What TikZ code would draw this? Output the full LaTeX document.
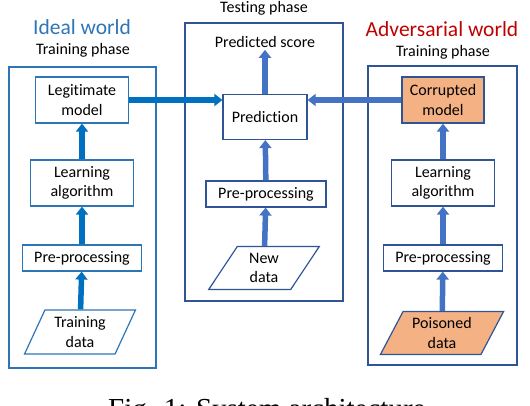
\documentclass[tikz,border=0pt]{standalone}
\usepackage{fontspec}
\setmainfont{Carlito}[Ligatures=NoCommon]
\newfontfamily\captionfont{Liberation Serif}
\usetikzlibrary{shapes.geometric, arrows.meta, positioning, calc}
\definecolor{ideal_blue}{RGB}{46, 117, 182}
\definecolor{flow_blue}{RGB}{0, 112, 192}
\definecolor{dark_blue}{RGB}{47, 85, 151}
\definecolor{mid_blue}{RGB}{68, 114, 196}
\definecolor{adv_red}{RGB}{192, 0, 0}
\definecolor{poison_orange}{RGB}{244, 177, 131}

\begin{document}
\begin{tikzpicture}[
        x=1pt, y=-1pt,
        font=\fontsize{16}{19.5}\selectfont,
        every node/.style={inner sep=2pt},
        block/.style={draw=ideal_blue, line width=1.2pt, align=center, fill=white},
        datablock/.style={trapezium, trapezium stretches=true, trapezium left angle=#1,
            trapezium right angle=180-#1, draw=ideal_blue, line width=1.2pt, align=center, fill=white},
        frame/.style={draw=ideal_blue, line width=1.8pt},
        flow/.style={line width=5.5pt, flow_blue, -{Triangle[width=12pt, length=8pt]}},
        title/.style={font=\fontsize{21.5}{23}\selectfont}
    ]
        \useasboundingbox (0, 0) rectangle (530, 406);

        % -------- Cornici --------
        \draw[frame] (9, 67) rectangle (156, 368);
        \draw[frame, dark_blue] (185, 23) rectangle (343, 301);
        \draw[frame, dark_blue] (368, 66) rectangle (517, 365);

        % -------- Titoli --------
        \node[title, ideal_blue] (ideal) at (82, 27) {Ideal world};
        \node (trainl) at (83, 50) {Training phase};
        \node (test) at (264, 8) {Testing phase};
        \node[title, adv_red] (adv) at (442, 29) {Adversarial world};
        \node (trainr) at (443, 52) {Training phase};

        % -------- Mondo ideale --------
        \node[block, minimum width=93, minimum height=46] (legit) at (82, 100) {Legitimate\\model};
        \node[block, minimum width=103, minimum height=46] (learnl) at (82, 183) {Learning\\algorithm};
        \node[block, minimum width=119, minimum height=26] (prel) at (82, 258) {Pre-processing};
        \node[datablock=65, minimum width=111, minimum height=44] (tdata) at (80, 332) {Training\\data};

        \draw[flow] (tdata) -- (prel);
        \draw[flow] (prel) -- (learnl);
        \draw[flow] (learnl) -- (legit);

        % -------- Fase di test --------
        \node (score) at (265, 42) {Predicted score};
        \node[block, draw=dark_blue, minimum width=84, minimum height=45] (pred) at (265, 117) {Prediction};
        \node[block, draw=dark_blue, minimum width=120, minimum height=26] (prec) at (266, 194) {Pre-processing};
        \node[datablock=62, draw=dark_blue, minimum width=111, minimum height=43] (ndata) at (264, 268) {New\\data};

        \draw[flow, mid_blue] (ndata) -- (prec);
        \draw[flow, mid_blue] (prec) -- (pred);
        \draw[flow, mid_blue] (pred) -- (score);

        % -------- Mondo avversario --------
        \node[block, draw=dark_blue, fill=poison_orange, minimum width=82, minimum height=46] (corr) at (443, 100) {Corrupted\\model};
        \node[block, draw=dark_blue, minimum width=103, minimum height=46] (learnr) at (443, 183) {Learning\\algorithm};
        \node[block, draw=dark_blue, minimum width=119, minimum height=26] (prer) at (443, 258) {Pre-processing};
        \node[datablock=62, draw=dark_blue, fill=poison_orange, minimum width=124, minimum height=43] (pdata) at (442, 333) {Poisoned\\data};

        \draw[flow, mid_blue] (pdata) -- (prer);
        \draw[flow, mid_blue] (prer) -- (learnr);
        \draw[flow, mid_blue] (learnr) -- (corr);

        % -------- Modelli verso la predizione --------
        \draw[flow] (legit.east) -- (legit.east -| pred.west);
        \draw[flow, mid_blue] (corr.west) -- (corr.west -| pred.east);

        % -------- Didascalia --------
        \node[anchor=base west, inner sep=0, font=\captionfont\fontsize{29}{29}\selectfont] (cap) at (108, 418) {Fig. 1: System architecture};

    \end{tikzpicture}
\end{document}
